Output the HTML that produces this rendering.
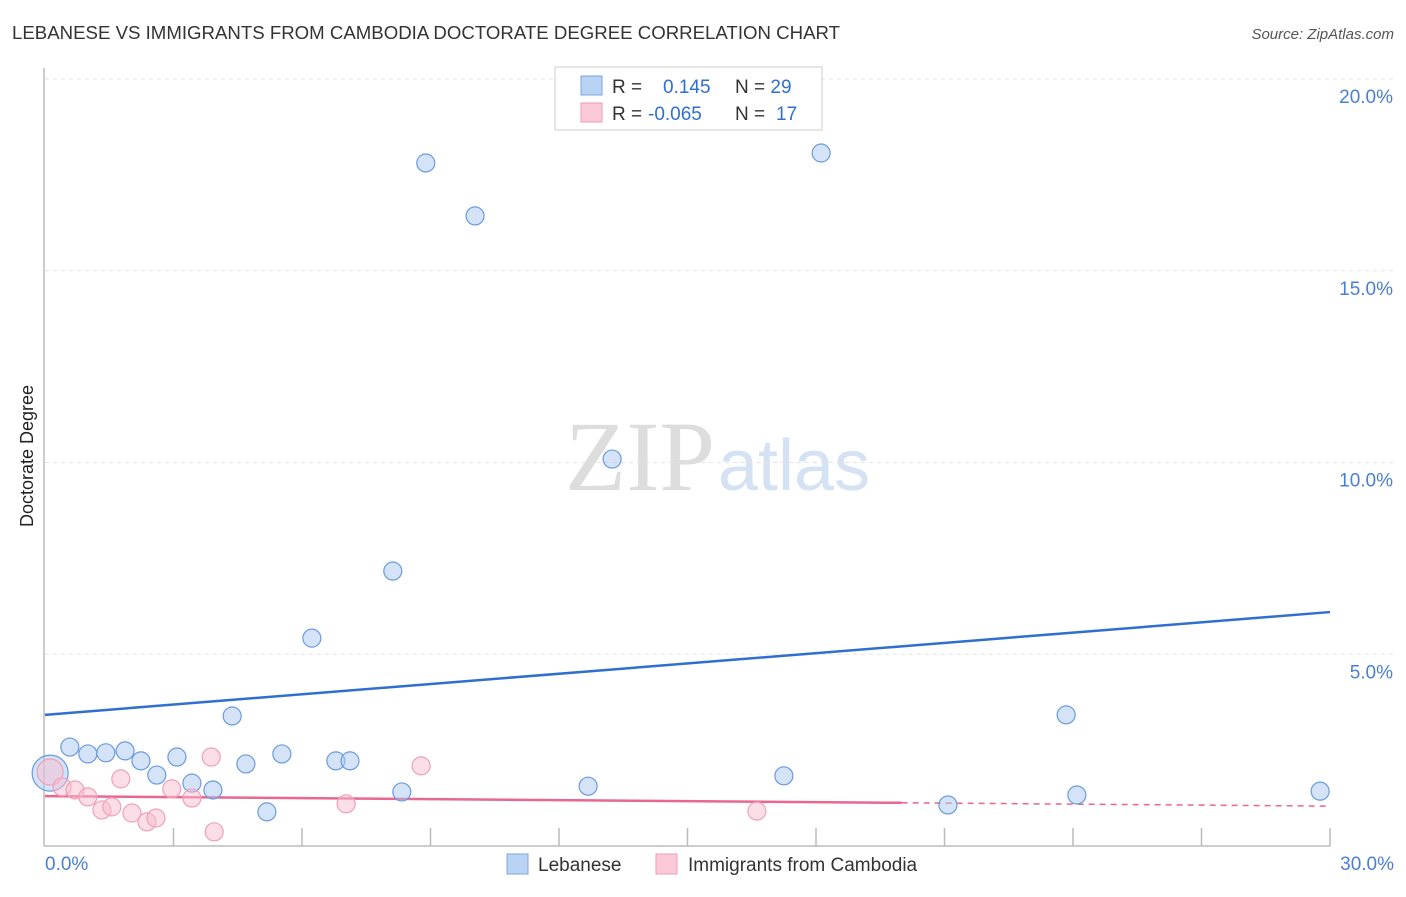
<!DOCTYPE html>
<html><head><meta charset="utf-8"><style>
body{margin:0;background:#fff;font-family:"Liberation Sans",sans-serif;}
</style></head><body>
<svg width="1406" height="892" xmlns="http://www.w3.org/2000/svg" font-family="Liberation Sans, sans-serif">
<text x="12" y="39" font-size="18" fill="#333" textLength="828" lengthAdjust="spacingAndGlyphs">LEBANESE VS IMMIGRANTS FROM CAMBODIA DOCTORATE DEGREE CORRELATION CHART</text>
<text x="1394" y="39" font-size="15" fill="#555" font-style="italic" text-anchor="end">Source: ZipAtlas.com</text>
<text x="715" y="490" font-size="100" fill="#ddd" text-anchor="end" font-family="Liberation Serif, serif">ZIP</text>
<text x="718" y="490" font-size="72" fill="#d4e2f4">atlas</text>
<g id="grid"></g>
<line x1="44" y1="68" x2="44" y2="846" stroke="#bbb" stroke-width="1.5"/>
<line x1="44" y1="846" x2="1330" y2="846" stroke="#bbb" stroke-width="1.5"/>
<text transform="translate(33,456) rotate(-90)" font-size="18" fill="#222" text-anchor="middle">Doctorate Degree</text>
<text x="45" y="870" font-size="19" fill="#4a7fd4">0.0%</text>
<text x="1394" y="870" font-size="19" fill="#4a7fd4" text-anchor="end">30.0%</text>
<g id="lines"></g>
<g id="pts"></g>
<g>
<rect x="555" y="67" width="267" height="63" fill="#fff" stroke="#ccc"/>
<rect x="581" y="76" width="21" height="19" fill="#b9d3f4" stroke="#7aa6e0"/>
<rect x="581" y="103" width="21" height="19" fill="#fbcad8" stroke="#f09ab5"/>
<text x="612" y="93" font-size="19" fill="#333">R = <tspan fill="#2f6fd0" x="663">0.145</tspan><tspan x="735" fill="#333">N = </tspan><tspan fill="#2f6fd0">29</tspan></text>
<text x="612" y="120" font-size="19" fill="#333">R = <tspan fill="#2f6fd0" x="648">-0.065</tspan><tspan x="735" fill="#333">N = </tspan><tspan fill="#2f6fd0" x="776">17</tspan></text>
</g>
<g>
<rect x="507" y="854" width="21" height="20" fill="#b9d3f4" stroke="#7aa6e0"/>
<text x="538" y="871" font-size="19" fill="#333">Lebanese</text>
<rect x="656" y="854" width="21" height="20" fill="#fbcad8" stroke="#f09ab5"/>
<text x="688" y="871" font-size="19" fill="#333">Immigrants from Cambodia</text>
</g>
</svg>
<script>
const yTicks=[5,10,15,20];
const yTickLabels=["5.0%","10.0%","15.0%","20.0%"];
const xTicks=[3,6,9,12,15,18,21,24,27,30];
const blueX=[0.12,0.58,1.00,1.42,1.87,2.24,2.61,3.08,3.43,3.92,4.37,4.69,5.18,5.53,6.23,6.79,7.12,8.12,8.33,8.89,10.04,12.68,13.24,17.25,18.12,21.08,23.84,24.09,29.77];
const blueY=[1.90,2.58,2.40,2.43,2.48,2.22,1.85,2.32,1.64,1.46,3.39,2.14,0.89,2.40,5.42,2.22,2.22,7.17,1.41,17.81,16.43,1.56,10.09,1.83,18.07,1.07,3.42,1.33,1.43];
const pinkX=[0.12,0.40,0.70,1.00,1.33,1.56,1.77,2.03,2.38,2.59,2.96,3.43,3.88,3.95,7.03,8.78,16.62];
const pinkY=[1.93,1.54,1.46,1.28,0.94,1.02,1.75,0.86,0.63,0.73,1.49,1.25,2.32,0.37,1.10,2.09,0.91];
const blueTrend=[3.42,6.10];
const pinkTrend=[1.30,1.04];
const pinkSolidEnd=20;
const NS="http://www.w3.org/2000/svg";
const sx=v=>45+v*1285/30, sy=v=>846-v*38.35;
function mk(t,a,p){const e=document.createElementNS(NS,t);for(const k in a)e.setAttribute(k,a[k]);p.appendChild(e);return e;}
const grid=document.getElementById('grid');
yTicks.forEach((t,i)=>{
 const l=mk('line',{x1:45,x2:1394,y1:sy(t),y2:sy(t),stroke:'#e3e3e3','stroke-dasharray':'4,4'},grid);
 
 
 const tx=mk('text',{x:1393,y:sy(t)+24,'font-size':19,fill:'#4a7fd4','text-anchor':'end'},grid);
 tx.textContent=yTickLabels[i];
 
 
});
xTicks.forEach(t=>{
 const l=mk('line',{x1:sx(t),x2:sx(t),y1:828,y2:846,stroke:'#bbb','stroke-width':1.5},grid);
 
 
});
const lines=document.getElementById('lines');
let b=mk('line',{x1:sx(0),y1:sy(blueTrend[0]),x2:sx(30),y2:sy(blueTrend[1]),stroke:'#2f6fd0','stroke-width':2.5},lines);


const pAt=x=>pinkTrend[0]+(pinkTrend[1]-pinkTrend[0])*x/30;
let p1=mk('line',{x1:sx(0),y1:sy(pAt(0)),x2:sx(pinkSolidEnd),y2:sy(pAt(pinkSolidEnd)),stroke:'#e9668f','stroke-width':2.5},lines);


let p2=mk('line',{x1:sx(pinkSolidEnd),y1:sy(pAt(pinkSolidEnd)),x2:sx(30),y2:sy(pAt(30)),stroke:'#e9668f','stroke-width':1.5,'stroke-dasharray':'6,5'},lines);


const pts=document.getElementById('pts');
blueX.forEach((x,i)=>{
 const c=mk('circle',{cx:sx(x),cy:sy(blueY[i]),r:i==0?18:9,fill:'rgba(170,200,240,0.5)',stroke:'#6a9be0','stroke-width':1.2},pts);
 
 
});
pinkX.forEach((x,i)=>{
 const c=mk('circle',{cx:sx(x),cy:sy(pinkY[i]),r:i==0?13:9,fill:'rgba(248,190,208,0.5)',stroke:'#f0a0b8','stroke-width':1.2},pts);
 
 
});
</script>
</body></html>
